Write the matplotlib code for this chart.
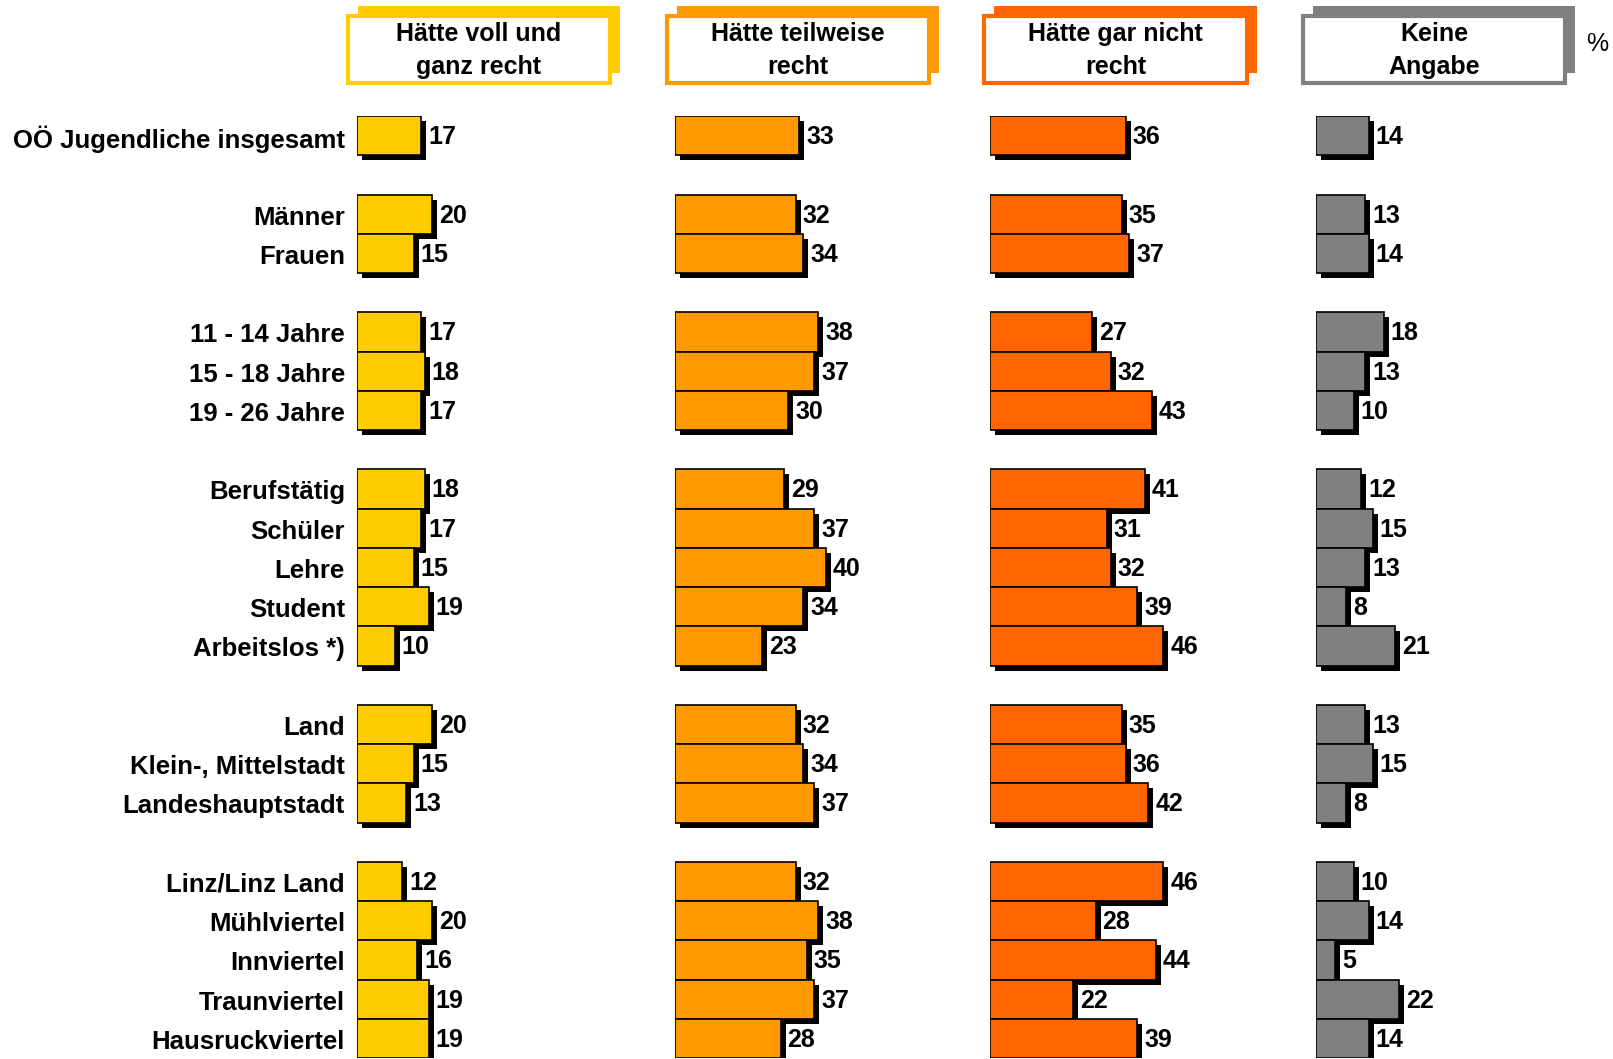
import matplotlib
matplotlib.use("Agg")
import matplotlib.pyplot as plt
from matplotlib.patches import Rectangle

plt.rcParams['font.family'] = ['Liberation Sans', 'DejaVu Sans']
plt.rcParams['font.weight'] = 'bold'

categories = ["OÖ Jugendliche insgesamt", "Männer", "Frauen",
              "11 - 14 Jahre", "15 - 18 Jahre", "19 - 26 Jahre",
              "Berufstätig", "Schüler", "Lehre", "Student", "Arbeitslos *)",
              "Land", "Klein-, Mittelstadt", "Landeshauptstadt",
              "Linz/Linz Land", "Mühlviertel", "Innviertel", "Traunviertel", "Hausruckviertel"]
group_sizes = [1, 2, 3, 5, 3, 5]

series_names = ["Hätte voll und\nganz recht", "Hätte teilweise\nrecht",
                "Hätte gar nicht\nrecht", "Keine\nAngabe"]
voll = [17, 20, 15, 17, 18, 17, 18, 17, 15, 19, 10, 20, 15, 13, 12, 20, 16, 19, 19]
teil = [33, 32, 34, 38, 37, 30, 29, 37, 40, 34, 23, 32, 34, 37, 32, 38, 35, 37, 28]
gar = [36, 35, 37, 27, 32, 43, 41, 31, 32, 39, 46, 35, 36, 42, 46, 28, 44, 22, 39]
keine = [14, 13, 14, 18, 13, 10, 12, 15, 13, 8, 21, 13, 15, 8, 10, 14, 5, 22, 14]
series = [voll, teil, gar, keine]
colors = ["#FFCC00", "#FF9900", "#FF6600", "#808080"]

W, H = 1613, 1059
fig = plt.figure(figsize=(W / 100, H / 100), dpi=100)

# slot positions with one empty slot between groups
ypos = []
s = 0
for g in group_sizes:
    for k in range(g):
        ypos.append(s)
        s += 1
    s += 1
nslots = ypos[-1] + 1

PX_PER_UNIT = 3.77
top_px, bot_px = 116, 1058
slot_px = (bot_px - top_px) / nslots
bar_x0 = [357, 675, 990, 1316]
col_w_px = 260
frames = [(348, 610), (667, 929), (984, 1247), (1303, 1565)]

sdx = 5 / PX_PER_UNIT
sdy = 5 / slot_px
fs = 18
fs_cat = 18.5

for i, (vals, col) in enumerate(zip(series, colors)):
    ax = fig.add_axes([bar_x0[i] / W, (H - bot_px) / H, col_w_px / W, (bot_px - top_px) / H])
    ax.set_xlim(0, col_w_px / PX_PER_UNIT)
    ax.set_ylim(nslots - 0.5, -0.5)
    ax.axis('off')
    # shadows
    ax.barh([y + sdy for y in ypos], vals, left=sdx, height=1.0, color='black', linewidth=0, zorder=1)
    ax.barh(ypos, vals, height=1.0, color=col, edgecolor='black', linewidth=1.2, zorder=2)
    for y, v in zip(ypos, vals):
        ax.text(v + 7 / PX_PER_UNIT, y + 1.5 / slot_px, str(v), va='center', ha='left', fontsize=fs,
                fontweight='bold', zorder=3)
    if i == 0:
        for y, c in zip(ypos, categories):
            ax.text(-12 / PX_PER_UNIT, y + 3.5 / slot_px, c, va='center', ha='right', fontsize=fs_cat,
                    fontweight='bold', clip_on=False)

    # header box
    fx0, fx1 = frames[i]
    fy0, fy1 = 16, 83
    off = 10
    shadow = Rectangle(((fx0 + off) / W, (H - fy1 + off) / H), (fx1 - fx0) / W, (fy1 - fy0) / H,
                       transform=fig.transFigure, facecolor=col, edgecolor='none', zorder=1)
    frame = Rectangle((fx0 / W, (H - fy1) / H), (fx1 - fx0) / W, (fy1 - fy0) / H,
                      transform=fig.transFigure, facecolor='white', edgecolor=col,
                      linewidth=3, zorder=2)
    fig.add_artist(shadow)
    fig.add_artist(frame)
    fig.text((fx0 + fx1) / 2 / W, (H - (fy0 + fy1) / 2 - 1) / H, series_names[i],
             ha='center', va='center', fontsize=18, fontweight='bold',
             linespacing=1.45, zorder=3)

fig.text(1597 / W, (H - 44) / H, "%", ha='center', va='center', fontsize=18, fontweight='normal')

fig.savefig("out.png", dpi=100)
